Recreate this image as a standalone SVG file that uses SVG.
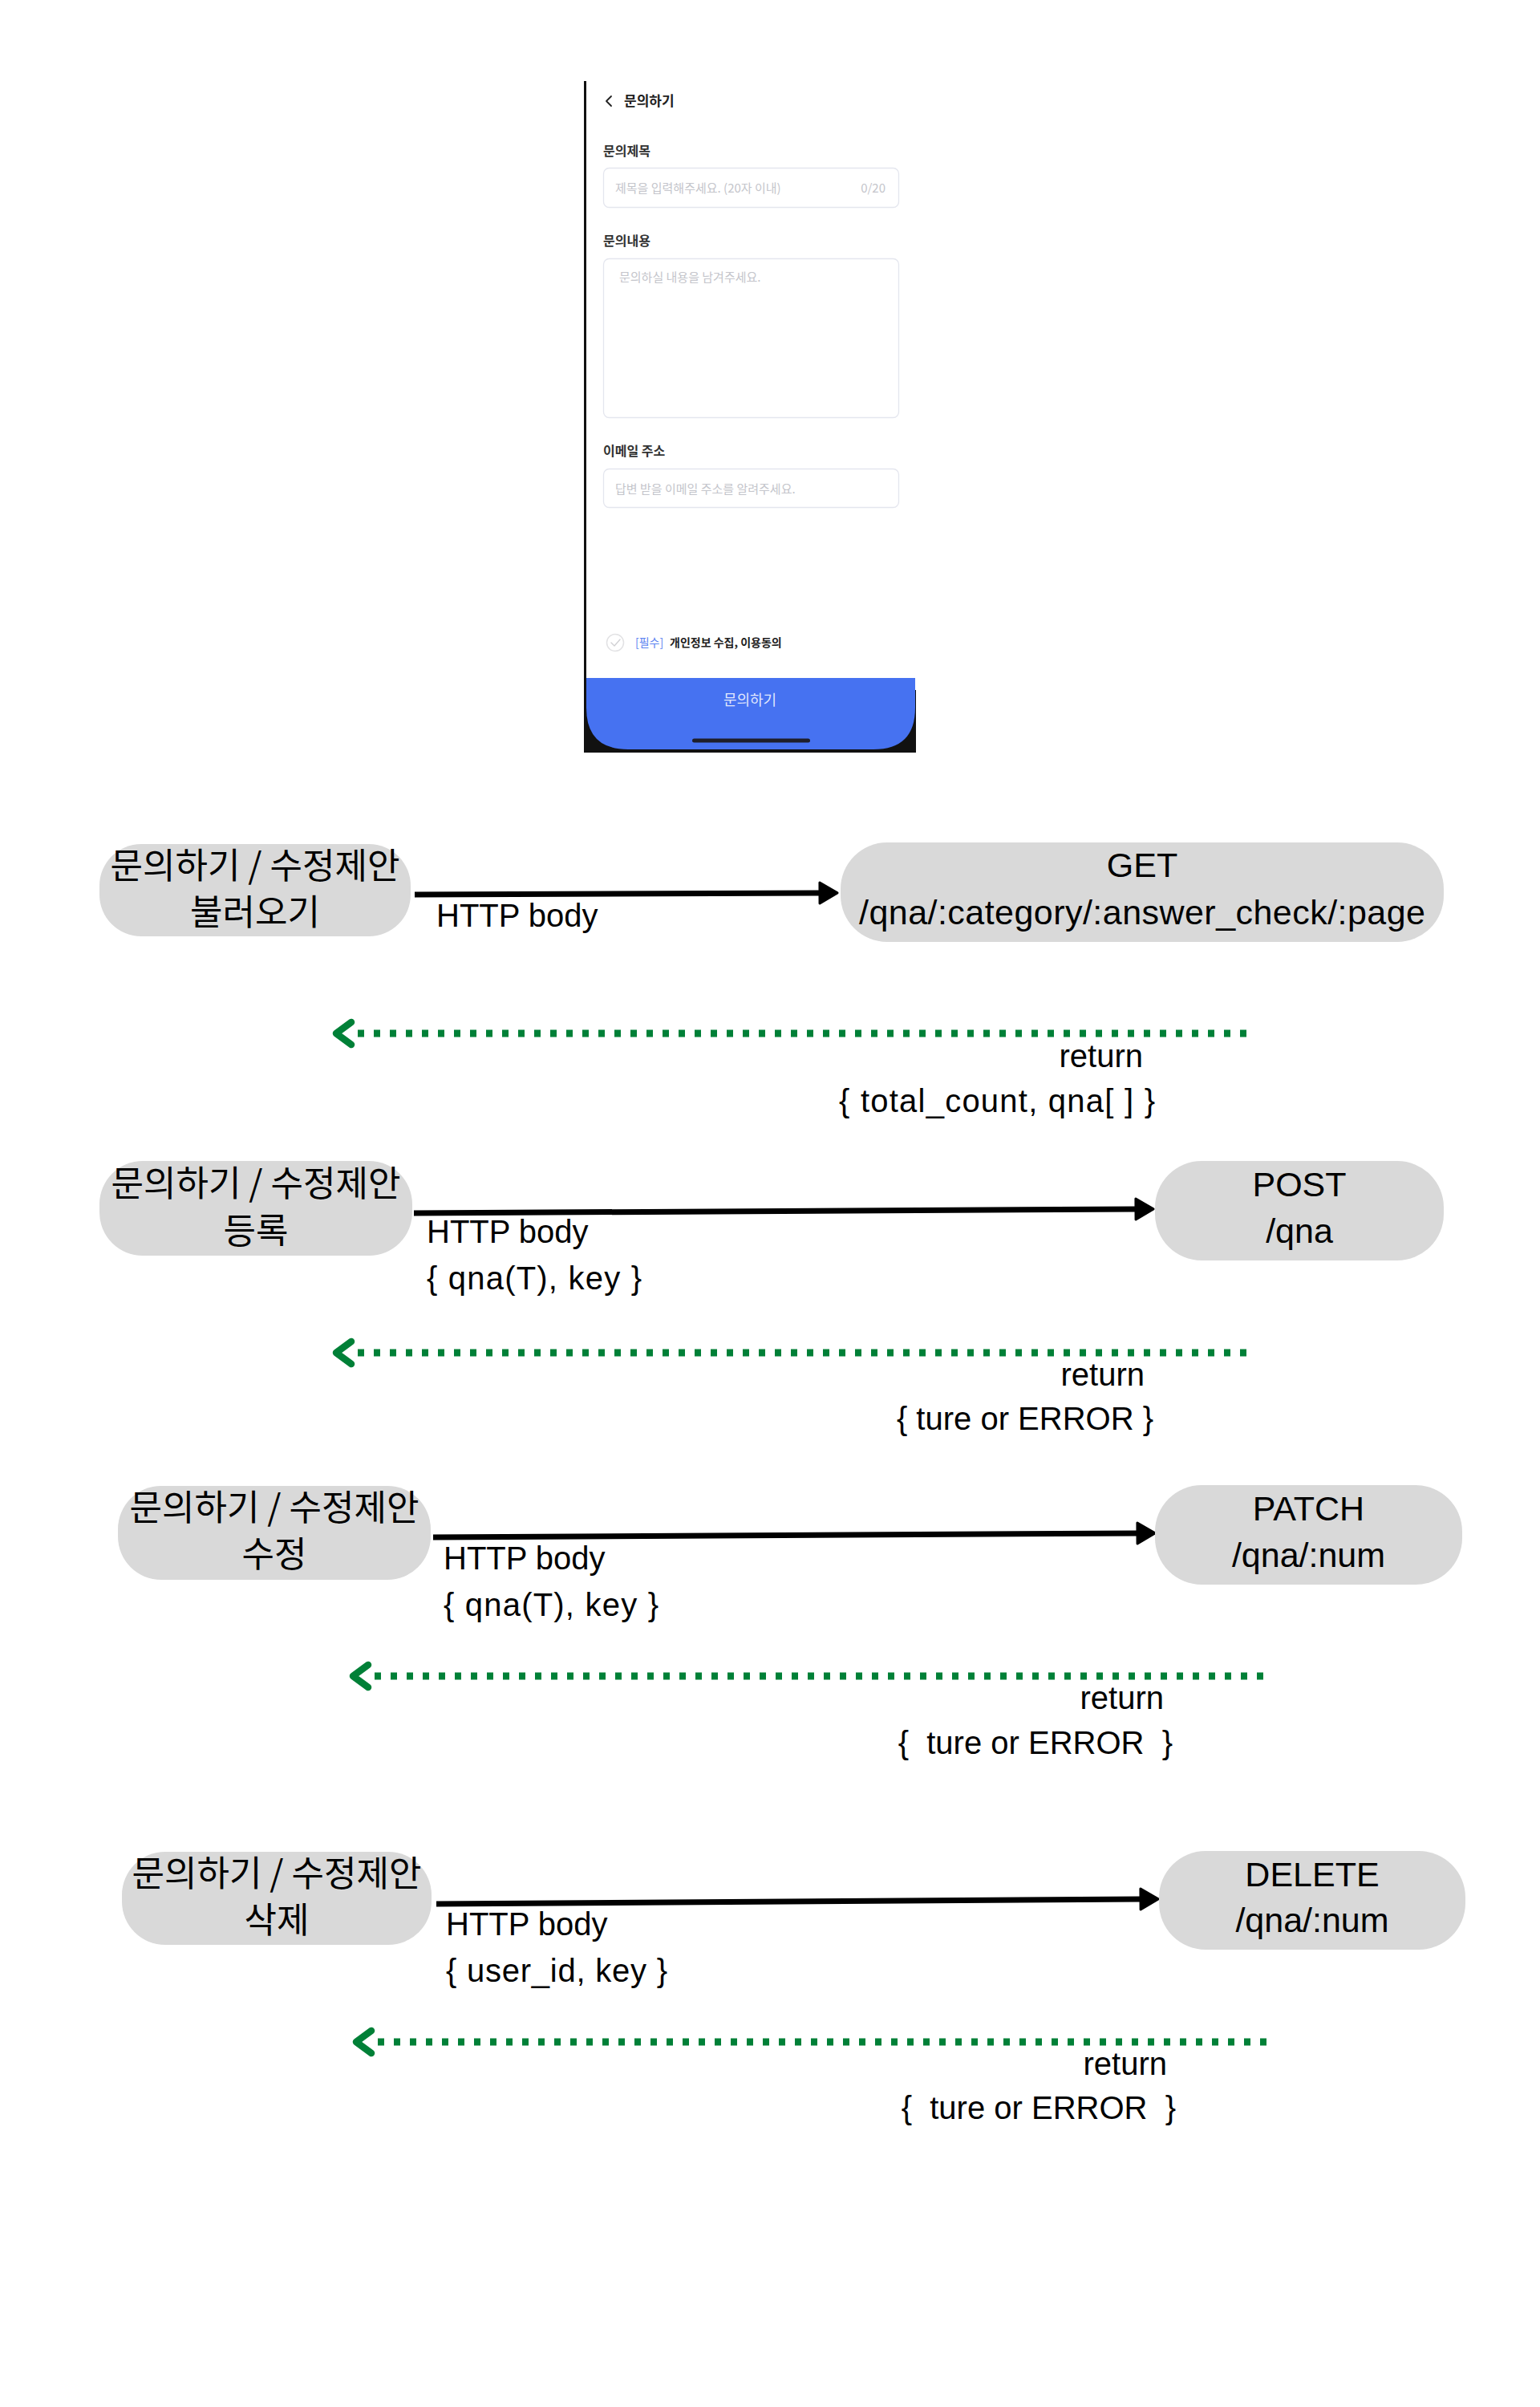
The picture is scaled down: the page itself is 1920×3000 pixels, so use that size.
<svg xmlns="http://www.w3.org/2000/svg" width="1920" height="3000" viewBox="0 0 1920 3000">
<defs>
<style>
.ph{font-family:'Noto Sans CJK KR','Noto Sans',sans-serif}
.ph-title{font-size:17px;font-weight:700;fill:#222}
.ph-label{font-size:16px;font-weight:700;fill:#333}
.ph-hint{font-size:15px;fill:#c4c5cb}
.ph-box{fill:#fff;stroke:#e4e6ee;stroke-width:1.3}
.pill{fill:#d9d9d9}
.ntk{font-family:'Noto Sans CJK KR',sans-serif;font-size:44px;fill:#000;text-anchor:middle}
.ntl{font-family:'Liberation Sans',Arial,sans-serif;font-size:43px;fill:#000;text-anchor:middle}
.lbl{font-family:'Liberation Sans',Arial,sans-serif;font-size:40px;fill:#000;white-space:pre}
.ret{text-anchor:end}
.req{fill:none;stroke:#000;stroke-width:7;marker-end:url(#ah)}
.res{fill:none;stroke:#008037;stroke-width:9;stroke-dasharray:8 12;marker-start:url(#chev)}
</style>
<marker id="ah" markerUnits="userSpaceOnUse" viewBox="0 -17 30 34" markerWidth="30" markerHeight="34" refX="0" refY="0" orient="auto" overflow="visible">
<path d="M0,-13 L22,0 L0,13 Z" fill="#000" stroke="#000" stroke-width="3" stroke-linejoin="round"/>
</marker>
<marker id="chev" markerUnits="userSpaceOnUse" viewBox="-10 -25 45 50" markerWidth="45" markerHeight="50" refX="27" refY="0" orient="auto" overflow="visible">
<path d="M19,-14 L0,0 L19,14" fill="none" stroke="#008037" stroke-width="8.5" stroke-linecap="round" stroke-linejoin="round"/>
</marker>
</defs>
<rect width="1920" height="3000" fill="#fff"/>

<g id="phone-screen" class="ph">
<line x1="729.5" y1="101" x2="729.5" y2="900" stroke="#111" stroke-width="3"/>
<polyline points="762,120 756,126 762,132" fill="none" stroke="#222" stroke-width="1.8" stroke-linecap="round" stroke-linejoin="round"/>
<text class="ph-title" x="778" y="132">문의하기</text>
<text class="ph-label" x="752" y="194">문의제목</text>
<rect class="ph-box" x="752.5" y="209.5" width="368" height="49" rx="7"/>
<text class="ph-hint" x="767" y="239.5">제목을 입력해주세요. (20자 이내)</text>
<text class="ph-hint" x="1104" y="239.5" text-anchor="end">0/20</text>
<text class="ph-label" x="752" y="306">문의내용</text>
<rect class="ph-box" x="752.5" y="322.5" width="368" height="198" rx="7"/>
<text class="ph-hint" x="772" y="350.5">문의하실 내용을 남겨주세요.</text>
<text class="ph-label" x="752" y="568">이메일 주소</text>
<rect class="ph-box" x="752.5" y="584.5" width="368" height="48" rx="7"/>
<text class="ph-hint" x="767" y="614.5">답변 받을 이메일 주소를 알려주세요.</text>
<circle cx="767" cy="801" r="10.5" fill="none" stroke="#e2e2e4" stroke-width="1.5"/>
<polyline points="762,801 766,805 773,797" fill="none" stroke="#d0d0d3" stroke-width="1.3" stroke-linecap="round" stroke-linejoin="round"/>
<text x="792" y="806" font-size="14" fill="#5a82f0">[필수]</text>
<text x="835" y="806" font-size="14" font-weight="700" fill="#222">개인정보 수집, 이용동의</text>
<rect x="728" y="860" width="414" height="78" fill="#111"/>
<path d="M731,845 H1141 V882 Q1141,934 1089,934 H783 Q731,934 731,882 Z" fill="#4672f1"/>
<text x="935" y="879" font-size="18" fill="#fff" fill-opacity="0.85" text-anchor="middle">문의하기</text>
<rect x="863" y="920.5" width="147" height="5" rx="2.5" fill="#1e1e2a"/>
</g>

<g id="connectors">
<path class="req" d="M517,1115 L1022,1113"/>
<path class="res" d="M446,1288 H1562"/>
<path class="req" d="M516,1512 L1416,1507"/>
<path class="res" d="M446,1686 H1562"/>
<path class="req" d="M540,1916 L1418,1911"/>
<path class="res" d="M467,2089 H1582"/>
<path class="req" d="M544,2373 L1422,2367"/>
<path class="res" d="M471,2545 H1586"/>
</g>

<g id="edge-labels">
<text class="lbl" x="544" y="1155">HTTP body</text>
<text class="lbl ret" x="1425" y="1330">return</text>
<text class="lbl ret" x="1440" y="1386" textLength="394" lengthAdjust="spacing">{ total_count, qna[ ] }</text>

<text class="lbl" x="532" y="1549">HTTP body</text>
<text class="lbl" x="532" y="1607" textLength="268" lengthAdjust="spacing">{ qna(T), key }</text>
<text class="lbl ret" x="1427" y="1727">return</text>
<text class="lbl ret" x="1438" y="1782">{ ture or ERROR }</text>

<text class="lbl" x="553" y="1956">HTTP body</text>
<text class="lbl" x="553" y="2014" textLength="268" lengthAdjust="spacing">{ qna(T), key }</text>
<text class="lbl ret" x="1451" y="2130">return</text>
<text class="lbl ret" x="1462" y="2186">{  ture or ERROR  }</text>

<text class="lbl" x="556" y="2412">HTTP body</text>
<text class="lbl" x="556" y="2470" textLength="276" lengthAdjust="spacing">{ user_id, key }</text>
<text class="lbl ret" x="1455" y="2586">return</text>
<text class="lbl ret" x="1466" y="2641">{  ture or ERROR  }</text>
</g>

<g id="node-client-list">
<rect class="pill" x="124" y="1052" width="388" height="115" rx="52"/>
<text class="ntk" x="318" y="1095">문의하기 / 수정제안</text>
<text class="ntk" x="318" y="1153">불러오기</text>
</g>
<g id="node-api-get">
<rect class="pill" x="1048" y="1050" width="752" height="124" rx="58"/>
<text class="ntl" x="1424" y="1093">GET</text>
<text class="ntl" x="1424" y="1152" textLength="706" lengthAdjust="spacing">/qna/:category/:answer_check/:page</text>
</g>

<g id="node-client-create">
<rect class="pill" x="124" y="1447" width="390" height="118" rx="54"/>
<text class="ntk" x="319" y="1491">문의하기 / 수정제안</text>
<text class="ntk" x="319" y="1550">등록</text>
</g>
<g id="node-api-post">
<rect class="pill" x="1440" y="1447" width="360" height="124" rx="58"/>
<text class="ntl" x="1620" y="1491">POST</text>
<text class="ntl" x="1620" y="1549">/qna</text>
</g>

<g id="node-client-update">
<rect class="pill" x="147" y="1852" width="390" height="117" rx="54"/>
<text class="ntk" x="342" y="1895">문의하기 / 수정제안</text>
<text class="ntk" x="342" y="1953">수정</text>
</g>
<g id="node-api-patch">
<rect class="pill" x="1440" y="1851" width="383" height="124" rx="58"/>
<text class="ntl" x="1631.5" y="1895">PATCH</text>
<text class="ntl" x="1631.5" y="1953">/qna/:num</text>
</g>

<g id="node-client-delete">
<rect class="pill" x="152" y="2308" width="386" height="116" rx="54"/>
<text class="ntk" x="345" y="2351">문의하기 / 수정제안</text>
<text class="ntk" x="345" y="2409">삭제</text>
</g>
<g id="node-api-delete">
<rect class="pill" x="1445" y="2307" width="382" height="123" rx="58"/>
<text class="ntl" x="1636" y="2351">DELETE</text>
<text class="ntl" x="1636" y="2408">/qna/:num</text>
</g>
</svg>
